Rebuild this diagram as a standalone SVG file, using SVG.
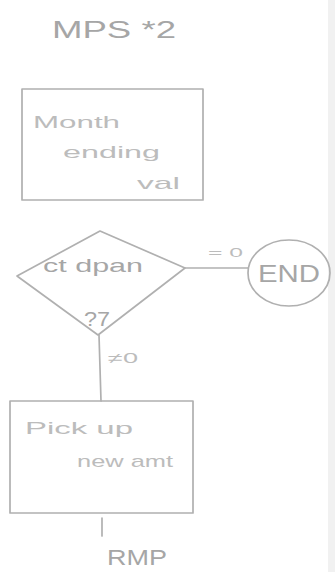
<svg xmlns="http://www.w3.org/2000/svg" width="335" height="572" viewBox="0 0 335 572">
<style>
.s{fill:none;stroke:#b0b0b0;stroke-width:1.7;stroke-linecap:round;stroke-linejoin:round}
.t{font-family:"Liberation Sans","DejaVu Sans",sans-serif;fill:#a6a6a6}
.f{fill:#bcbcbc}
</style>
<rect x="0" y="0" width="335" height="572" fill="#ffffff"/>
<rect x="328" y="0" width="7" height="572" fill="#f1f1f1"/>
<text class="t" x="52" y="38" font-size="24" textLength="124" lengthAdjust="spacingAndGlyphs">MPS *2</text>
<g id="box1">
<rect class="s" x="22" y="89" width="181" height="111"/>
<text class="t f" x="33" y="128" font-size="17" textLength="87" lengthAdjust="spacingAndGlyphs">Month</text>
<text class="t f" x="63" y="158" font-size="17" textLength="97" lengthAdjust="spacingAndGlyphs">ending</text>
<text class="t f" x="137" y="189" font-size="17" textLength="43" lengthAdjust="spacingAndGlyphs">val</text>
</g>
<g id="decision">
<path class="s" d="M17 276 L100 231 L185 268 L98 335 Z"/>
<text class="t" x="43" y="272" font-size="19" textLength="100" lengthAdjust="spacingAndGlyphs">ct dpan</text>
<text class="t" x="84" y="326" font-size="20" textLength="26" lengthAdjust="spacingAndGlyphs">?7</text>
</g>
<g id="end">
<ellipse class="s" cx="289" cy="273" rx="41" ry="33"/>
<text class="t" x="258" y="282" font-size="24" textLength="62" lengthAdjust="spacingAndGlyphs">END</text>
</g>
<g id="box2">
<rect class="s" x="10" y="401" width="183" height="112"/>
<text class="t f" x="25" y="434" font-size="17" textLength="108" lengthAdjust="spacingAndGlyphs">Pick up</text>
<text class="t f" x="77" y="467" font-size="17" textLength="96" lengthAdjust="spacingAndGlyphs">new amt</text>
</g>
<g id="connectors">
<line class="s" x1="185" y1="268" x2="248" y2="268"/>
<line class="s" x1="99" y1="335" x2="101" y2="401"/>
<line class="s" x1="102" y1="518" x2="102" y2="536"/>
<text class="t f" x="208" y="257" font-size="13" textLength="35" lengthAdjust="spacingAndGlyphs">= 0</text>
<text class="t f" x="108" y="363" font-size="14" textLength="30" lengthAdjust="spacingAndGlyphs">≠0</text>
</g>
<text class="t" x="107" y="565" font-size="22" textLength="60" lengthAdjust="spacingAndGlyphs">RMP</text>
</svg>
